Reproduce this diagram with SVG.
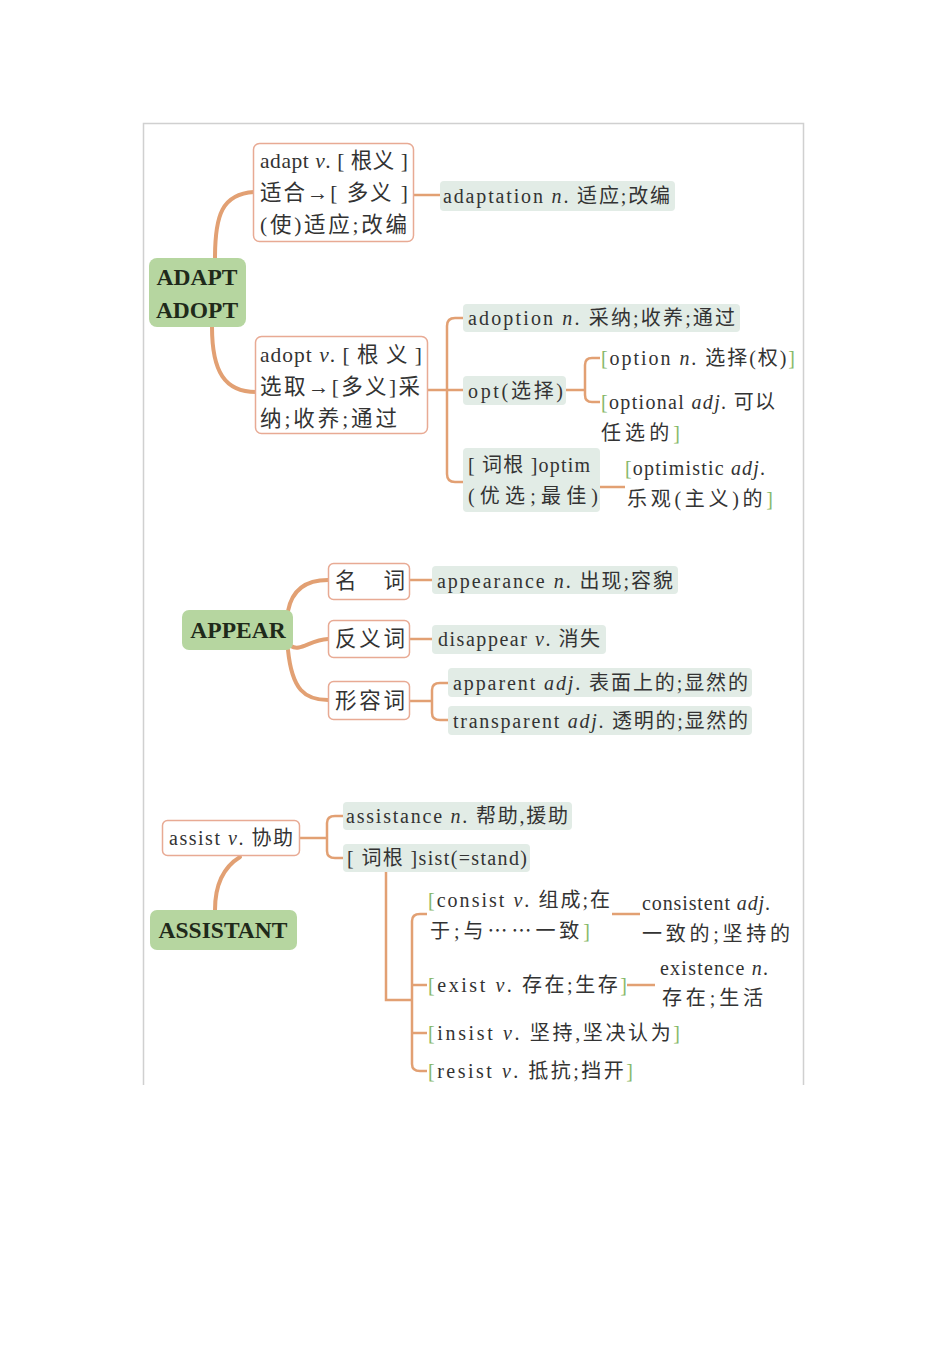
<svg xmlns="http://www.w3.org/2000/svg" width="950" height="1345" viewBox="0 0 950 1345">
<style>
.t{font-family:"Liberation Serif","Noto Sans CJK SC",serif;fill:#333;font-size:20px}
.b{font-size:21.5px}
.h{font-family:"Liberation Serif",serif;font-weight:bold;font-size:23.5px;fill:#1f2a1a;text-anchor:middle}
.i{font-style:italic}
.g{fill:#86b86a}
.k{font-family:"Noto Sans CJK SC",sans-serif}
.wb{fill:#fff;stroke:#e8aa94;stroke-width:1.5}
.gb{fill:#b6d6a0}
.lb{fill:#e2ece6}
.c{fill:none;stroke:#e2a073;stroke-width:2.5}
.cc{fill:none;stroke:#e2a073;stroke-width:4;stroke-linecap:round}
</style>
<rect width="950" height="1345" fill="#fff"/>
<path d="M143.5,1085 V123.5 H803.5 V1085" fill="none" stroke="#d0d0d0" stroke-width="1.5"/>

<g id="connectors">
<path class="cc" d="M215,258 C215,215 222,194 254,192"/>
<path class="cc" d="M212,327 C212,372 225,392 256,392"/>
<path class="c" d="M414,195 H440"/>
<path class="c" d="M428,390 H463"/>
<path class="c" d="M463,318 H455 Q447,318 447,326 V474 Q447,482 455,482 H463"/>
<path class="c" d="M566,390 H585"/>
<path class="c" d="M600,358 H592 Q585,358 585,365 V395 Q585,402 592,402 H600"/>
<path class="c" d="M600,487 H625"/>
<path class="cc" d="M288,611 C292,590 305,580 328,580"/>
<path class="cc" d="M291,646 C300,652 310,640 328,639"/>
<path class="cc" d="M288,650 C292,690 305,700 328,700"/>
<path class="c" d="M410,580 H432"/>
<path class="c" d="M410,639 H432"/>
<path class="c" d="M410,701 H432"/>
<path class="c" d="M448,683 H440 Q432,683 432,690 V713 Q432,720 440,720 H448"/>
<path class="cc" d="M240,857 C222,868 215,888 215,910"/>
<path class="c" d="M300,838 H327"/>
<path class="c" d="M343,816 H335 Q327,816 327,823 V851 Q327,858 335,858 H343"/>
<path class="c" d="M386,872 V1000 H412"/>
<path class="c" d="M427,914 H420 Q412,914 412,921 V1064 Q412,1071 420,1071 H427"/>
<path class="c" d="M412,985 H427"/>
<path class="c" d="M412,1033 H427"/>
<path class="c" d="M612,914 H640"/>
<path class="c" d="M627,985 H655"/>
</g>

<g id="adapt-adopt">
<rect class="gb" x="149" y="258" width="97" height="69" rx="8"/>
<text class="h" x="197" y="285">ADAPT</text>
<text class="h" x="197" y="318">ADOPT</text>
</g>
<g id="adapt">
<rect class="wb" x="253.5" y="143.5" width="160" height="98" rx="6"/>
<text class="t b" x="260" y="168" textLength="148">adapt <tspan class="i">v</tspan>. [ 根义 ]</text>
<text class="t b" x="260" y="200" textLength="148">适合→[ 多义 ]</text>
<text class="t b" x="260" y="232" textLength="147">(使)适应;改编</text>
</g>
<g id="adaptation">
<rect class="lb" x="440" y="181" width="235" height="30" rx="4"/>
<text class="t" x="443" y="203" textLength="227">adaptation <tspan class="i">n</tspan>. 适应;改编</text>
</g>
<g id="adopt">
<rect class="wb" x="255.5" y="336.5" width="172" height="97" rx="6"/>
<text class="t b" x="260" y="362" textLength="162">adopt <tspan class="i">v</tspan>. [ 根 义 ]</text>
<text class="t b" x="260" y="394" textLength="160">选取→[多义]采</text>
<text class="t b" x="260" y="426" textLength="137">纳;收养;通过</text>
</g>
<g id="adoption">
<rect class="lb" x="463" y="304" width="277" height="28" rx="4"/>
<text class="t" x="468" y="325" textLength="267">adoption <tspan class="i">n</tspan>. 采纳;收养;通过</text>
</g>
<g id="opt">
<rect class="lb" x="463" y="376" width="103" height="29" rx="4"/>
<text class="t" x="468" y="398" textLength="95">opt(选择)</text>
</g>
<g id="optim">
<rect class="lb" x="463" y="448" width="137" height="64" rx="4"/>
<text class="t" x="468" y="472" textLength="122">[ 词根 ]optim</text>
<text class="t" x="468" y="503" textLength="130">(优选;最佳)</text>
</g>
<g id="option">
<text class="t" x="601" y="365" textLength="194"><tspan class="g">[</tspan>option <tspan class="i">n</tspan>. 选择(权)<tspan class="g">]</tspan></text>
</g>
<g id="optional">
<text class="t" x="601" y="409" textLength="174"><tspan class="g">[</tspan>optional <tspan class="i">adj</tspan>. 可以</text>
<text class="t" x="601" y="440" textLength="79">任选的<tspan class="g">]</tspan></text>
</g>
<g id="optimistic">
<text class="t" x="625" y="475" textLength="140"><tspan class="g">[</tspan>optimistic <tspan class="i">adj</tspan>.</text>
<text class="t" x="627" y="506" textLength="146">乐观(主义)的<tspan class="g">]</tspan></text>
</g>

<g id="appear">
<rect class="gb" x="182" y="610" width="111" height="40" rx="7"/>
<text class="h" x="238" y="638">APPEAR</text>
</g>
<g id="noun">
<rect class="wb" x="328.5" y="563.5" width="81" height="36" rx="5"/>
<text class="t b" x="335" y="588" textLength="70">名　词</text>
</g>
<g id="antonym">
<rect class="wb" x="328.5" y="620.5" width="81" height="37" rx="5"/>
<text class="t b" x="335" y="646" textLength="70">反义词</text>
</g>
<g id="adjective">
<rect class="wb" x="328.5" y="681.5" width="81" height="38" rx="5"/>
<text class="t b" x="335" y="708" textLength="70">形容词</text>
</g>
<g id="appearance">
<rect class="lb" x="432" y="566" width="246" height="28" rx="4"/>
<text class="t" x="437" y="588" textLength="236">appearance <tspan class="i">n</tspan>. 出现;容貌</text>
</g>
<g id="disappear">
<rect class="lb" x="432" y="625" width="174" height="29" rx="4"/>
<text class="t" x="438" y="646" textLength="162">disappear <tspan class="i">v</tspan>. 消失</text>
</g>
<g id="apparent">
<rect class="lb" x="448" y="668" width="304" height="29" rx="4"/>
<text class="t" x="453" y="690" textLength="295">apparent <tspan class="i">adj</tspan>. 表面上的;显然的</text>
</g>
<g id="transparent">
<rect class="lb" x="448" y="706" width="304" height="29" rx="4"/>
<text class="t" x="453" y="728" textLength="295">transparent <tspan class="i">adj</tspan>. 透明的;显然的</text>
</g>

<g id="assist">
<rect class="wb" x="162.5" y="820.5" width="137" height="35" rx="5"/>
<text class="t" x="169" y="845" textLength="124">assist <tspan class="i">v</tspan>. 协助</text>
</g>
<g id="assistant">
<rect class="gb" x="150" y="910" width="147" height="40" rx="7"/>
<text class="h" x="223" y="938">ASSISTANT</text>
</g>
<g id="assistance">
<rect class="lb" x="343" y="802" width="229" height="28" rx="4"/>
<text class="t" x="346" y="823" textLength="222">assistance <tspan class="i">n</tspan>. 帮助,援助</text>
</g>
<g id="sist">
<rect class="lb" x="343" y="844" width="187" height="28" rx="4"/>
<text class="t" x="347" y="865" textLength="180">[ 词根 ]sist(=stand)</text>
</g>
<g id="consist">
<text class="t" x="428" y="907" textLength="182"><tspan class="g">[</tspan>consist <tspan class="i">v</tspan>. 组成;在</text>
<text class="t" x="430" y="938" textLength="160">于;与<tspan class="k">……</tspan>一致<tspan class="g">]</tspan></text>
</g>
<g id="consistent">
<text class="t" x="642" y="910" textLength="128">consistent <tspan class="i">adj</tspan>.</text>
<text class="t" x="642" y="941" textLength="148">一致的;坚持的</text>
</g>
<g id="exist">
<text class="t" x="428" y="992" textLength="199"><tspan class="g">[</tspan>exist <tspan class="i">v</tspan>. 存在;生存<tspan class="g">]</tspan></text>
</g>
<g id="existence">
<text class="t" x="660" y="975" textLength="108">existence <tspan class="i">n</tspan>.</text>
<text class="t" x="662" y="1005" textLength="101">存在;生活</text>
</g>
<g id="insist">
<text class="t" x="428" y="1040" textLength="252"><tspan class="g">[</tspan>insist <tspan class="i">v</tspan>. 坚持,坚决认为<tspan class="g">]</tspan></text>
</g>
<g id="resist">
<text class="t" x="428" y="1078" textLength="205"><tspan class="g">[</tspan>resist <tspan class="i">v</tspan>. 抵抗;挡开<tspan class="g">]</tspan></text>
</g>
</svg>
